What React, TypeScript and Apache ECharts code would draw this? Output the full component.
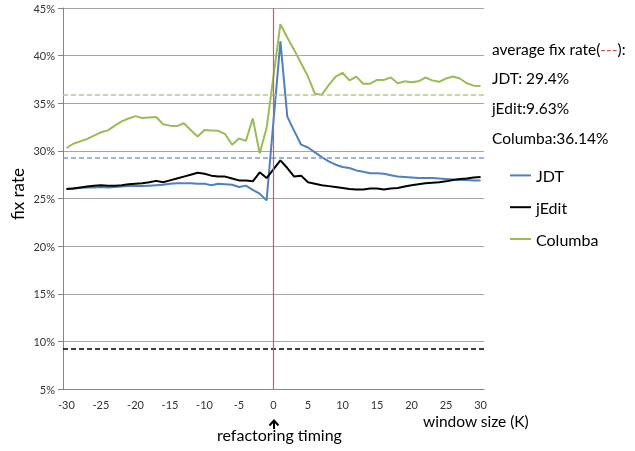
import React, { useEffect, useRef } from "react";
import * as echarts from "echarts";

const categories = [
  "-30","-29","-28","-27","-26","-25","-24","-23","-22","-21",
  "-20","-19","-18","-17","-16","-15","-14","-13","-12","-11",
  "-10","-9","-8","-7","-6","-5","-4","-3","-2","-1",
  "0",
  "1","2","3","4","5","6","7","8","9","10",
  "11","12","13","14","15","16","17","18","19","20",
  "21","22","23","24","25","26","27","28","29","30",
];

const jdt = [
  26.0, 26.05, 26.1, 26.15, 26.15, 26.2, 26.15, 26.2, 26.25, 26.3,
  26.3, 26.3, 26.35, 26.4, 26.45, 26.55, 26.6, 26.6, 26.6, 26.55,
  26.55, 26.4, 26.55, 26.5, 26.45, 26.2, 26.35, 25.9, 25.5, 24.8,
  null,
  41.5, 33.6, 32.1, 30.65, 30.35, 29.85, 29.35, 28.9, 28.55, 28.3,
  28.2, 27.95, 27.8, 27.65, 27.65, 27.6, 27.45, 27.3, 27.25, 27.2,
  27.15, 27.15, 27.15, 27.1, 27.05, 27.0, 26.95, 26.95, 26.9, 26.9,
];

const jedit = [
  26.0, 26.05, 26.15, 26.25, 26.35, 26.4, 26.35, 26.35, 26.4, 26.5,
  26.55, 26.6, 26.7, 26.85, 26.7, 26.9, 27.1, 27.3, 27.5, 27.7,
  27.6, 27.4, 27.3, 27.3, 27.1, 26.9, 26.9, 26.8, 27.75, 27.15,
  null,
  29.0, 28.2, 27.3, 27.4, 26.7, 26.55, 26.4, 26.3, 26.2, 26.1,
  26.0, 25.95, 25.95, 26.05, 26.05, 25.95, 26.05, 26.1, 26.25, 26.4,
  26.5, 26.6, 26.65, 26.7, 26.8, 26.95, 27.05, 27.1, 27.2, 27.25,
];

const columba = [
  30.3, 30.75, 31.0, 31.25, 31.6, 31.95, 32.15, 32.65, 33.1, 33.4,
  33.65, 33.45, 33.5, 33.55, 32.8, 32.65, 32.6, 32.9, 32.2, 31.5,
  32.2, 32.15, 32.1, 31.75, 30.65, 31.3, 31.05, 33.4, 29.75, 32.4,
  null,
  43.3, 41.9, 40.6, 39.2, 37.8, 36.0, 35.9, 36.9, 37.8, 38.2,
  37.4, 37.8, 37.05, 37.05, 37.45, 37.45, 37.7, 37.1, 37.3, 37.2,
  37.3, 37.7, 37.4, 37.25, 37.6, 37.8, 37.6, 37.1, 36.85, 36.8,
];

// average lines as drawn in the picture
const avgLines = { JDT: 29.3, jEdit: 9.25, Columba: 35.85 };
const avgTexts = ["JDT: 29.4%", "jEdit:9.63%", "Columba:36.14%"];
const refactorAt = "0";
const yTicks = { min: 5, max: 45, interval: 5 };

const FONT = "Lato";
const BLUE = "#4f81bd";
const GREEN = "#9bbb59";
const BLACK = "#000000";
const RED = "#c0504d";

export default function App() {
  const ref = useRef<HTMLDivElement>(null);
  useEffect(() => {
    if (!ref.current) return;
    const chart = echarts.init(ref.current, undefined, { renderer: "svg" });
    const mk = (v: number, color: string) => ({
      silent: true,
      symbol: "none",
      label: { show: false },
      lineStyle: { type: [5, 3], color, width: 1.5 },
      data: [{ yAxis: v }],
    });
    chart.setOption({
      animation: false,
      textStyle: { fontFamily: FONT },
      grid: { left: 63, right: 151, top: 8, bottom: 62 },
      legend: {
        orient: "vertical",
        left: 510,
        top: 159.5,
        padding: 0,
        icon: "rect",
        itemWidth: 21,
        itemHeight: 2,
        itemGap: 0,
        textStyle: { fontFamily: FONT, fontSize: 16, color: "#000", lineHeight: 31.8 },
        data: ["JDT", "jEdit", "Columba"],
      },
      xAxis: {
        type: "category",
        data: categories,
        boundaryGap: true,
        axisLine: { lineStyle: { color: "#868686", width: 1 } },
        axisTick: { interval: 4, alignWithLabel: true, length: 5, lineStyle: { color: "#868686" } },
        axisLabel: { interval: 4, fontSize: 11, color: "#333", fontFamily: FONT, margin: 10 },
        splitLine: { show: false },
      },
      yAxis: {
        type: "value",
        min: yTicks.min,
        max: yTicks.max,
        interval: yTicks.interval,
        axisLine: { show: true, lineStyle: { color: "#868686" } },
        axisTick: { show: true, length: 5, lineStyle: { color: "#868686" } },
        axisLabel: { formatter: "{value}%", fontSize: 11, color: "#333", fontFamily: FONT, margin: 8 },
        splitLine: { lineStyle: { color: "#a6a6a6", width: 1 } },
      },
      series: [
        {
          name: "JDT",
          type: "line",
          data: jdt,
          symbol: "none",
          connectNulls: true,
          color: BLUE,
          lineStyle: { width: 2, color: BLUE },
          markLine: mk(avgLines.JDT, "#7d9dca"),
        },
        {
          name: "jEdit",
          type: "line",
          data: jedit,
          symbol: "none",
          connectNulls: true,
          color: BLACK,
          lineStyle: { width: 2, color: BLACK },
          markLine: mk(avgLines.jEdit, "#000"),
        },
        {
          name: "Columba",
          type: "line",
          data: columba,
          symbol: "none",
          connectNulls: true,
          color: GREEN,
          lineStyle: { width: 2, color: GREEN },
          markLine: mk(avgLines.Columba, "#b3cc86"),
        },
        {
          name: "refactoring",
          type: "line",
          data: [],
          symbol: "none",
          color: "#d05a5a",
          z: 5,
          markLine: {
            silent: true,
            symbol: "none",
            label: { show: false },
            lineStyle: { type: "solid", color: "#d05a5a", width: 1.2 },
            emphasis: { disabled: true },
            data: [{ xAxis: refactorAt, lineStyle: { color: "#d05a5a", width: 1.2, type: "solid" } }],
          },
        },
      ],
      graphic: [
        {
          type: "text",
          x: 17,
          y: 194,
          rotation: Math.PI / 2,
          style: {
            text: "fix rate",
            fontSize: 17,
            fontFamily: FONT,
            fill: "#000",
            align: "center",
            verticalAlign: "middle",
          },
        },
        {
          type: "text",
          x: 492,
          y: 48.5,
          style: {
            text: "{a|average fix rate(}{r|---}{a|):}",
            verticalAlign: "middle",
            rich: {
              a: { fontSize: 15.5, fontFamily: FONT, fill: "#000" },
              r: { fontSize: 15.5, fontFamily: FONT, fill: RED },
            },
          },
        },
        ...avgTexts.map((t, i) => ({
          type: "text",
          x: 492,
          y: 78 + i * 30,
          style: { text: t, fontSize: 15.5, fontFamily: FONT, fill: "#000", verticalAlign: "middle" },
        })),
        {
          type: "text",
          x: 423,
          y: 421,
          style: { text: "window size (K)", fontSize: 15.5, fontFamily: FONT, fill: "#000", verticalAlign: "middle" },
        },
        {
          type: "text",
          x: 217,
          y: 434,
          style: { text: "refactoring timing", fontSize: 16, fontFamily: FONT, fill: "#000", verticalAlign: "middle" },
        },
        {
          type: "line",
          shape: { x1: 274, y1: 429, x2: 274, y2: 421 },
          style: { stroke: "#000", lineWidth: 2 },
        },
        {
          type: "polyline",
          shape: { points: [[269.5, 425.5], [274, 420.5], [278.5, 425.5]] },
          style: { stroke: "#000", lineWidth: 2, fill: null },
        },
      ],
    });
    return () => chart.dispose();
  }, []);
  return (
    <div
      ref={ref}
      style={{ position: "fixed", left: 0, top: 0, width: 635, height: 451 }}
    />
  );
}
